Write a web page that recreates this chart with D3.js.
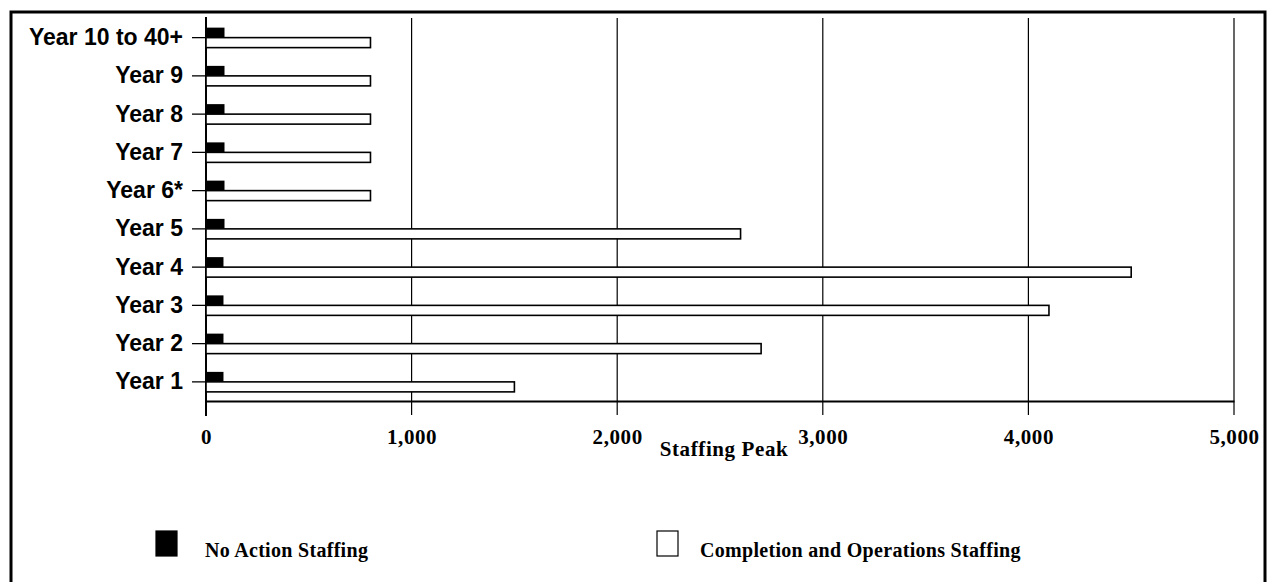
<!DOCTYPE html>
<html><head><meta charset="utf-8">
<script src="https://cdn.jsdelivr.net/npm/d3@7"></script>
<style>body{margin:0;background:#fff}svg{display:block}</style>
</head><body>
<svg id="c" width="1273" height="582"></svg>
<script>
const categories = ["Year 10 to 40+","Year 9","Year 8","Year 7","Year 6*","Year 5","Year 4","Year 3","Year 2","Year 1"];
const noActionStaffing = [90,90,90,90,90,90,85,85,85,85];
const completionStaffing = [800,800,800,800,800,2600,4500,4100,2700,1500];
const xTicks = [0,1000,2000,3000,4000,5000];
const seriesNames = ["No Action Staffing","Completion and Operations Staffing"];

const svg = d3.select("#c");
// outer frame
svg.append("path").attr("d","M11,582 L11,12 L1265,12 L1265,582")
  .attr("fill","none").attr("stroke","#000").attr("stroke-width",3);

const x = d3.scaleLinear().domain([0,5000]).range([206,1234]);
const y = d3.scaleBand().domain(categories).range([18.5,401]);
const bh = 10;

// gridlines
svg.append("g").selectAll("line").data(xTicks.slice(1)).join("line")
  .attr("x1",d=>x(d)).attr("x2",d=>x(d)).attr("y1",18).attr("y2",415)
  .attr("stroke","#000").attr("stroke-width",1.2);

// bottom axis
const xAxis = d3.axisBottom(x).tickValues(xTicks).tickFormat(d3.format(",")).tickSize(0).tickPadding(24);
const gx = svg.append("g").attr("transform","translate(0,401)").call(xAxis);
gx.select(".domain").attr("stroke","#000").attr("stroke-width",2);
gx.selectAll("text").attr("font-family","'Liberation Serif', serif").attr("font-weight","bold")
  .attr("font-size",21).attr("letter-spacing",0.6).attr("fill","#000").attr("dy","0.35em").attr("y",36);

// left axis
const yAxis = d3.axisLeft(y).tickSize(14).tickPadding(9);
const gy = svg.append("g").attr("transform","translate(206,0)").call(yAxis);
gy.select(".domain").remove();
gy.selectAll(".tick line").attr("stroke","#000").attr("stroke-width",1.3);
gy.selectAll("text").attr("font-family","'Liberation Sans', Arial, sans-serif").attr("font-weight","bold")
  .attr("font-size",23).attr("fill","#000");
svg.append("line").attr("x1",206).attr("x2",206).attr("y1",17).attr("y2",416)
  .attr("stroke","#000").attr("stroke-width",2);

// bars
const cy = d=>y(d)+y.bandwidth()/2;
svg.append("g").selectAll("rect").data(categories).join("rect")
  .attr("x",x(0)).attr("y",(d)=>cy(d)-bh).attr("height",bh)
  .attr("width",(d,i)=>x(noActionStaffing[i])-x(0)).attr("fill","#000");
svg.append("g").selectAll("rect").data(categories).join("rect")
  .attr("x",x(0)).attr("y",(d)=>cy(d)).attr("height",bh)
  .attr("width",(d,i)=>x(completionStaffing[i])-x(0))
  .attr("fill","#fff").attr("stroke","#000").attr("stroke-width",1.6);

// axis title
svg.append("text").attr("x",724).attr("y",449).attr("text-anchor","middle").attr("dominant-baseline","central")
  .attr("font-family","'Liberation Serif', serif").attr("font-weight","bold").attr("font-size",21)
  .attr("letter-spacing",0.6).text("Staffing Peak");

// legend
const leg = [{x:156,tx:205,fill:"#000"},{x:657,tx:700,fill:"#fff"}];
leg.forEach((l,i)=>{
  svg.append("rect").attr("x",l.x).attr("y",531).attr("width",21).attr("height",25)
    .attr("fill",l.fill).attr("stroke","#000").attr("stroke-width",1.2);
  svg.append("text").attr("x",l.tx).attr("y",557).attr("font-family","'Liberation Serif', serif")
    .attr("font-weight","bold").attr("font-size",20).attr("letter-spacing",0.3).text(seriesNames[i]);
});
</script>
</body></html>
